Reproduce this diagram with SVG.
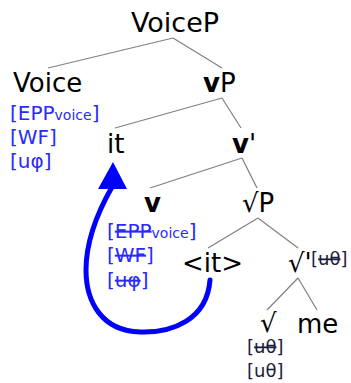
<svg xmlns="http://www.w3.org/2000/svg" width="351" height="383" viewBox="0 0 351 383">
  <style>
    text { font-family: "DejaVu Sans", "Liberation Sans", sans-serif; }
    .lbl { font-size: 26px; fill: #000; }
    .b { font-weight: bold; }
    .feat { font-size: 20px; fill: #2a2aff; }
    .sub { font-size: 14px; }
    .th { font-size: 18px; fill: #1c1c3c; }
    .del { text-decoration: line-through; }
    .edge { stroke: #808080; stroke-width: 1.2; fill: none; }
  </style>

  <!-- tree branches -->
  <g id="connectors">
    <line class="edge" x1="173" y1="38" x2="48" y2="68"/>
    <line class="edge" x1="173" y1="38" x2="222" y2="68"/>
    <line class="edge" x1="222" y1="98" x2="115" y2="128"/>
    <line class="edge" x1="222" y1="98" x2="241" y2="128"/>
    <line class="edge" x1="242" y1="158" x2="150" y2="188"/>
    <line class="edge" x1="242" y1="158" x2="257" y2="188"/>
    <line class="edge" x1="258" y1="218" x2="208" y2="248"/>
    <line class="edge" x1="258" y1="218" x2="298" y2="248"/>
    <line class="edge" x1="298" y1="278" x2="267" y2="310"/>
    <line class="edge" x1="298" y1="278" x2="317" y2="310"/>
  </g>

  <g id="VoiceP"><text class="lbl" x="175" y="32" text-anchor="middle" style="font-size:27px">VoiceP</text></g>

  <g id="Voice">
    <text class="lbl" x="13" y="92">Voice</text>
    <text class="feat" x="10" y="120">[EPP<tspan class="sub">voice</tspan>]</text>
    <text class="feat" x="10" y="144">[WF]</text>
    <text class="feat" x="10" y="168">[uφ]</text>
  </g>

  <g id="vP"><text class="lbl" x="203" y="92"><tspan class="b">v</tspan>P</text></g>

  <g id="it"><text class="lbl" x="107" y="153">it</text></g>

  <g id="vbar"><text class="lbl" x="232" y="153"><tspan class="b">v</tspan>'</text></g>

  <g id="v">
    <text class="lbl b" x="144" y="212">v</text>
    <text class="feat" x="107" y="238">[<tspan class="del">EPP</tspan><tspan class="sub">voice</tspan>]</text>
    <text class="feat" x="107" y="262">[<tspan class="del">WF</tspan>]</text>
    <text class="feat" x="107" y="287">[<tspan class="del">uφ</tspan>]</text>
  </g>

  <g id="rootP"><text class="lbl" x="242" y="212">√P</text></g>

  <g id="it-copy"><text class="lbl" x="182" y="272">&lt;it&gt;</text></g>

  <g id="rootbar">
    <text class="lbl" x="288" y="272">√'</text>
    <text class="th" x="311" y="265">[<tspan class="del">uθ</tspan>]</text>
  </g>

  <g id="root">
    <text class="lbl" x="260" y="332">√</text>
    <text class="th" x="247" y="353">[<tspan class="del">uθ</tspan>]</text>
    <text class="th" x="247" y="377">[uθ]</text>
  </g>

  <g id="me"><text class="lbl" x="297" y="333">me</text></g>

  <!-- movement arrow -->
  <g id="movement">
    <path d="M210,280 C207,320 172,333 140,332 C102,331 86,302 86,270 C86,238 100,208 112,187" fill="none" stroke="#0000ff" stroke-width="5" stroke-linecap="round"/>
    <polygon points="113,162 98,189 127,189" fill="#0000ff"/>
  </g>
</svg>
